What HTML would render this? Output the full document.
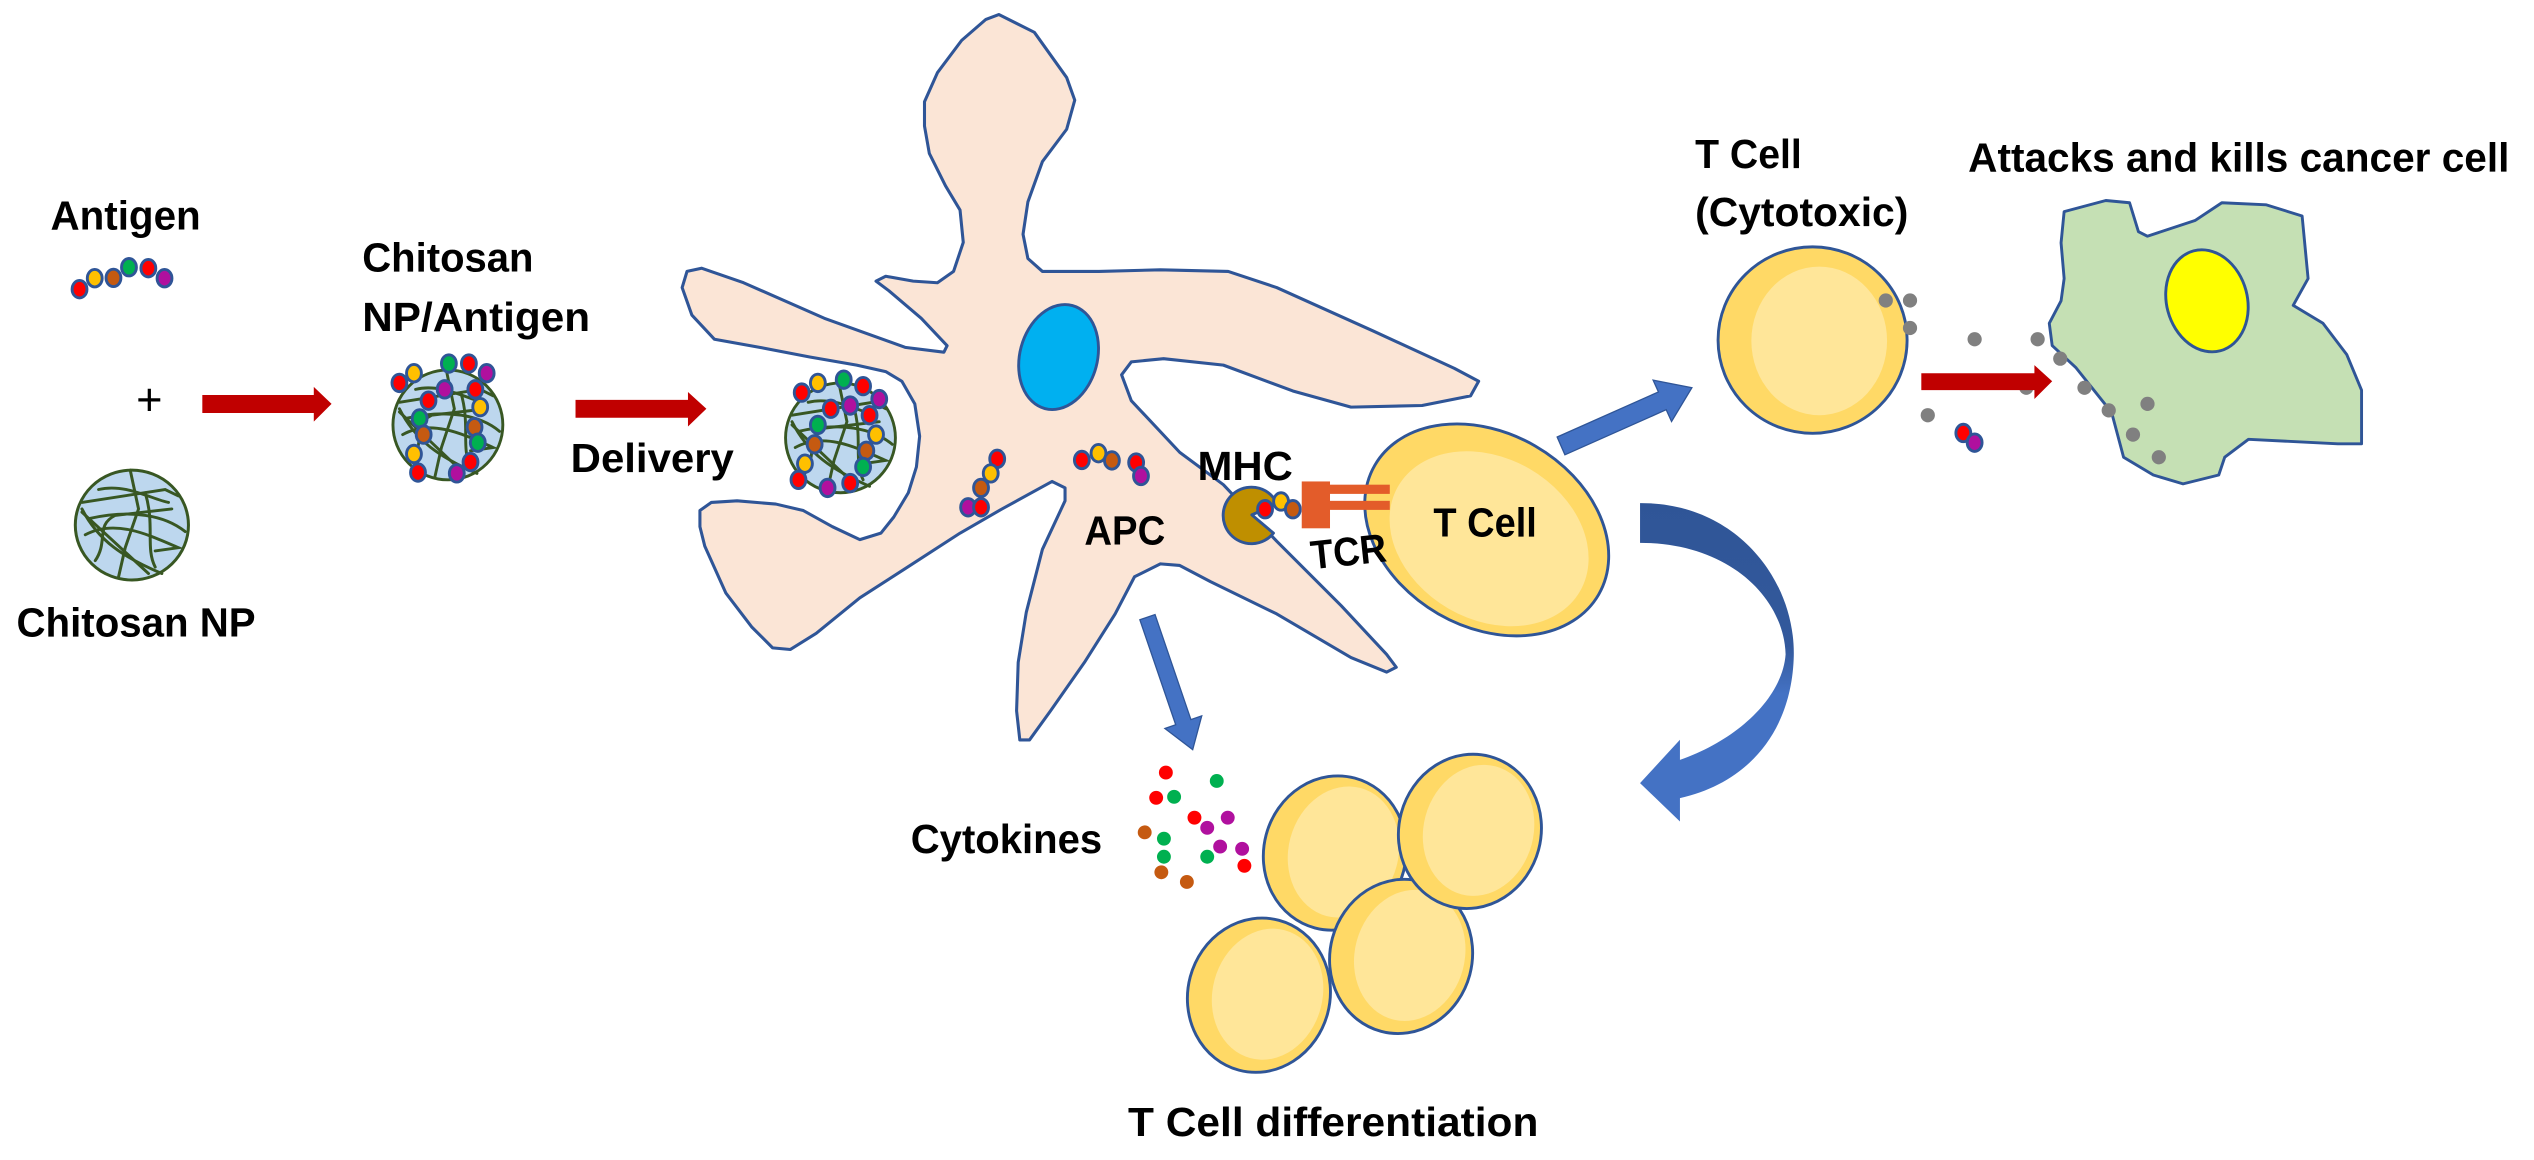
<!DOCTYPE html>
<html><head><meta charset="utf-8"><style>
html,body{margin:0;padding:0;background:#fff;}
svg{display:block;}
text{font-family:"Liberation Sans",sans-serif;font-weight:bold;fill:#000;}
</style></head><body>
<svg width="2534" height="1160" viewBox="0 0 1568 718" xmlns="http://www.w3.org/2000/svg">
<defs>
<linearGradient id="cg" x1="0" y1="0" x2="0" y2="1">
<stop offset="0" stop-color="#2F5597"/><stop offset="0.45" stop-color="#33599c"/><stop offset="0.6" stop-color="#4472C4"/><stop offset="1" stop-color="#4472C4"/>
</linearGradient>
<g id="fib">
<circle cx="0" cy="0" r="34" fill="#BDD7EE" stroke="#385723" stroke-width="1.8"/>
<g fill="none" stroke="#385723" stroke-width="1.8" stroke-linecap="round">
<path d="M-30,-14 L20,-22 L28,-18"/>
<path d="M-1,-34 L4,-10 L-4,14 L-8,32"/>
<path d="M-30,-10 C-20,10 -5,20 18,30"/>
<path d="M-26,-4 C0,-10 20,-6 32,4"/>
<path d="M-28,6 C-10,-4 10,6 28,14 L14,16"/>
<path d="M-22,22 C-14,10 -22,0 -10,-6 L24,-10"/>
<path d="M-20,-22 C-4,-26 12,-16 22,-14"/>
<path d="M8,-20 C14,0 8,14 14,26"/>
<path d="M-30,-8 L10,30"/>
</g>
</g>
<g id="bead"><ellipse cx="0" cy="0" rx="4.6" ry="5.4" stroke="#2F5597" stroke-width="1.8"/></g>
<g id="tc">
<ellipse cx="0" cy="0" rx="44" ry="48" fill="#FFD966" stroke="#2F5597" stroke-width="1.8"/>
<ellipse cx="5" cy="-2" rx="34" ry="41" fill="#FFE699"/>
</g>
</defs>

<!-- Antigen -->
<text x="31" y="142" font-size="25" textLength="93" lengthAdjust="spacingAndGlyphs">Antigen</text>
<use href="#bead" x="49" y="179" fill="#FF0000"/>
<use href="#bead" x="58.4" y="172.2" fill="#FFC000"/>
<use href="#bead" x="70" y="172" fill="#C55A11"/>
<use href="#bead" x="79.6" y="165.4" fill="#00B050"/>
<use href="#bead" x="91.6" y="166" fill="#FF0000"/>
<use href="#bead" x="101.6" y="172.2" fill="#B0109E"/>

<text x="84" y="257" font-size="28" style="font-weight:normal">+</text>
<path d="M125,244.5 H194 V239.5 L205,250 L194,261 V255.6 H125 Z" fill="#C00000"/>

<use href="#fib" transform="translate(81.4,325) scale(1.03,1)"/>
<text x="10" y="394" font-size="25" textLength="148" lengthAdjust="spacingAndGlyphs">Chitosan NP</text>

<text x="224" y="168" font-size="25" textLength="106" lengthAdjust="spacingAndGlyphs">Chitosan</text>
<text x="224" y="205" font-size="25" textLength="141" lengthAdjust="spacingAndGlyphs">NP/Antigen</text>

<!-- NP/antigen -->
<g transform="translate(277,263)">
<use href="#fib"/>
<use href="#bead" x="-30" y="-26" fill="#FF0000"/>
<use href="#bead" x="-21" y="-32" fill="#FFC000"/>
<use href="#bead" x="0.6" y="-38" fill="#00B050"/>
<use href="#bead" x="13" y="-38" fill="#FF0000"/>
<use href="#bead" x="24" y="-32" fill="#B0109E"/>
<use href="#bead" x="-2" y="-22" fill="#B0109E"/>
<use href="#bead" x="-12" y="-15" fill="#FF0000"/>
<use href="#bead" x="-17.5" y="-4" fill="#00B050"/>
<use href="#bead" x="-15" y="6" fill="#C55A11"/>
<use href="#bead" x="-21" y="18" fill="#FFC000"/>
<use href="#bead" x="-18.5" y="29.5" fill="#FF0000"/>
<use href="#bead" x="17" y="-22" fill="#FF0000"/>
<use href="#bead" x="20" y="-11" fill="#FFC000"/>
<use href="#bead" x="16.5" y="1.4" fill="#C55A11"/>
<use href="#bead" x="18.5" y="11" fill="#00B050"/>
<use href="#bead" x="14" y="23" fill="#FF0000"/>
<use href="#bead" x="5.5" y="30" fill="#B0109E"/>
</g>

<path d="M356,247.5 H425.6 V242.6 L437,253 L425.6,264 V258.6 H356 Z" fill="#C00000"/>
<text x="353" y="292" font-size="25" textLength="101" lengthAdjust="spacingAndGlyphs">Delivery</text>

<!-- APC -->
<polygon fill="#FBE5D6" stroke="#2F5597" stroke-width="1.9" stroke-linejoin="round" points="618,9 640,20 660,48 665,62 660,80 645,100 636,125 633,145 636,160 645,168 680,168 718,167 760,168 790,178 850,205 900,228 915,236 910,245 880,251 836,252 800,242 757,226 720,222 700,224 694,232 700,248 730,280 757,300 790,335 830,375 858,405 864,413 858,416 836,407 790,380 749,360 730,350 718,349 702,357 690,380 671,410 650,440 637,458 631,458 629,440 630,410 635,379 645,340 659,310 659,302 651,298 620,315 594,330 560,352 532,370 505,392 489,402 478,401 465,388 449,367 436,338 433,326 433,316 440,311 456,310 480,312 497,316 515,326 532,334 545,330 553,320 562,305 567,289 569,270 566,250 558,236 548,230 530,226 501,221 470,215 442,210 428,195 422,178 425,168 434,166 460,175 510,197 560,215 584,218 586,214 570,197 550,180 542,174 548,171 565,174 580,175 590,168 596,150 594,130 585,115 575,95 572,78 572,63 580,45 595,25 610,12"/>
<ellipse cx="655" cy="221" rx="24" ry="33" transform="rotate(15 655 221)" fill="#00B0F0" stroke="#2F5597" stroke-width="1.8"/>

<g transform="translate(520,271)">
<use href="#fib"/>
<use href="#bead" x="-24" y="-28" fill="#FF0000"/>
<use href="#bead" x="-14" y="-34" fill="#FFC000"/>
<use href="#bead" x="2" y="-36" fill="#00B050"/>
<use href="#bead" x="14" y="-32" fill="#FF0000"/>
<use href="#bead" x="24" y="-24" fill="#B0109E"/>
<use href="#bead" x="-6" y="-18" fill="#FF0000"/>
<use href="#bead" x="6" y="-20" fill="#B0109E"/>
<use href="#bead" x="-14" y="-8" fill="#00B050"/>
<use href="#bead" x="-16" y="4" fill="#C55A11"/>
<use href="#bead" x="-22" y="16" fill="#FFC000"/>
<use href="#bead" x="-26" y="26" fill="#FF0000"/>
<use href="#bead" x="18" y="-14" fill="#FF0000"/>
<use href="#bead" x="22" y="-2" fill="#FFC000"/>
<use href="#bead" x="16" y="8" fill="#C55A11"/>
<use href="#bead" x="14" y="18" fill="#00B050"/>
<use href="#bead" x="6" y="28" fill="#FF0000"/>
<use href="#bead" x="-8" y="31" fill="#B0109E"/>
</g>

<use href="#bead" x="617" y="284" fill="#FF0000"/>
<use href="#bead" x="613" y="293" fill="#FFC000"/>
<use href="#bead" x="607" y="302" fill="#C55A11"/>
<use href="#bead" x="599" y="314" fill="#B0109E"/>
<use href="#bead" x="607" y="314" fill="#FF0000"/>
<use href="#bead" x="669.4" y="284.7" fill="#FF0000"/>
<use href="#bead" x="679.7" y="280.5" fill="#FFC000"/>
<use href="#bead" x="688" y="285" fill="#C55A11"/>
<use href="#bead" x="703" y="286.3" fill="#FF0000"/>
<use href="#bead" x="706" y="294.6" fill="#B0109E"/>

<text x="671" y="337" font-size="25" textLength="50" lengthAdjust="spacingAndGlyphs">APC</text>
<text x="741" y="297" font-size="25" textLength="59" lengthAdjust="spacingAndGlyphs">MHC</text>

<!-- MHC pacman -->
<path d="M774.6,318.7 L790.3,311.8 A17.5,17.5 0 1 0 788,330 Z" fill="#BF8F00" stroke="#2F5597" stroke-width="1.8" stroke-linejoin="round"/>
<use href="#bead" x="782.8" y="315.2" fill="#FF0000"/>
<use href="#bead" x="792.7" y="310.4" fill="#FFC000"/>
<use href="#bead" x="800" y="315.2" fill="#C55A11"/>

<!-- T cell main -->
<g transform="translate(920,328) rotate(30)">
<ellipse cx="0" cy="0" rx="80" ry="60" fill="#FFD966" stroke="#2F5597" stroke-width="1.8"/>
<ellipse cx="4" cy="4" rx="65" ry="50" fill="#FFE699"/>
</g>
<rect x="805.5" y="298" width="17.5" height="29" fill="#E35C2A"/>
<rect x="823" y="300" width="37" height="5.7" fill="#E35C2A"/>
<rect x="823" y="310" width="37" height="5.6" fill="#E35C2A"/>
<text x="887" y="332" font-size="25" textLength="64" lengthAdjust="spacingAndGlyphs">T Cell</text>
<text x="811" y="350" font-size="25" textLength="47" lengthAdjust="spacingAndGlyphs" transform="rotate(-6 834 342)">TCR</text>

<!-- blue arrows -->
<polygon points="705.3,383.6 714.7,380.4 736.9,445.4 743.6,443.1 738,464 720.8,450.9 727.5,448.6" fill="#4472C4" stroke="#2F5597" stroke-width="0.8"/>
<polygon points="963.6,270.5 1026.3,242.6 1023,235.3 1047,240 1034.4,260.9 1031.1,253.6 968.4,281.5" fill="#4472C4" stroke="#2F5597" stroke-width="0.8"/>
<path d="M1014.9,311.4 C1075,311 1112,360 1110,408 C1108,455 1080,485 1039.6,494 L1039.6,508.5 L1014.9,484.7 L1039.6,457.9 L1039.6,470.3 C1075,458 1103,432 1105,405 C1104,370 1070,336 1014.9,336 Z" fill="url(#cg)"/>

<!-- cytotoxic T cell -->
<text x="1049" y="104" font-size="25" textLength="66" lengthAdjust="spacingAndGlyphs">T Cell</text>
<text x="1049" y="140" font-size="25" textLength="132" lengthAdjust="spacingAndGlyphs">(Cytotoxic)</text>
<ellipse cx="1121.7" cy="210.5" rx="58.5" ry="57.7" fill="#FFD966" stroke="#2F5597" stroke-width="1.8"/>
<ellipse cx="1125.8" cy="211" rx="42" ry="46" fill="#FFE699"/>

<g fill="#808080">
<circle cx="1167" cy="186" r="4.4"/><circle cx="1182" cy="186" r="4.4"/><circle cx="1182" cy="203" r="4.4"/>
<circle cx="1222" cy="210" r="4.4"/><circle cx="1261" cy="210" r="4.4"/>
<circle cx="1254" cy="240" r="4.4"/><circle cx="1193" cy="257" r="4.4"/>
</g>

<path d="M1189,231 H1259 V226 L1270,236 L1259,247 V241.5 H1189 Z" fill="#C00000"/>
<use href="#bead" x="1215" y="268" fill="#FF0000"/>
<use href="#bead" x="1222" y="274" fill="#B0109E"/>

<!-- cancer cell -->
<text x="1218" y="106" font-size="25" textLength="335" lengthAdjust="spacingAndGlyphs">Attacks and kills cancer cell</text>
<polygon fill="#C5E0B4" stroke="#2F5597" stroke-width="1.8" stroke-linejoin="round" points="1277.4,131 1303.2,124.1 1317.9,125.5 1323.4,143.4 1328.9,146.2 1358.4,136.5 1375,125.5 1402.6,126.8 1424.7,133.7 1428.4,172.4 1419.2,189 1437.6,200.1 1452.3,219.4 1461.5,241.5 1461.5,274.7 1446.8,274.7 1391.5,271.9 1376.8,283 1373.1,294 1351,299.5 1332.6,294 1314.2,283 1306.8,255.3 1284.8,227.7 1270,213.9 1268.2,200.1 1275.5,186.2 1277.4,172.4 1275.5,150.3"/>
<ellipse cx="1365.8" cy="186.2" rx="25" ry="32" transform="rotate(-15 1365.8 186.2)" fill="#FFFF00" stroke="#2F5597" stroke-width="1.8"/>
<g fill="#808080">
<circle cx="1275" cy="222" r="4.4"/><circle cx="1290" cy="240" r="4.4"/><circle cx="1305" cy="254" r="4.4"/>
<circle cx="1329" cy="250" r="4.4"/><circle cx="1320" cy="269" r="4.4"/><circle cx="1336" cy="283" r="4.4"/>
</g>

<!-- cytokines -->
<text x="563.5" y="528" font-size="25" textLength="118.5" lengthAdjust="spacingAndGlyphs">Cytokines</text>
<g>
<circle cx="721.4" cy="478.2" r="4.3" fill="#FF0000"/>
<circle cx="752.9" cy="483.4" r="4.3" fill="#00B050"/>
<circle cx="715.4" cy="493.8" r="4.3" fill="#FF0000"/>
<circle cx="726.5" cy="493.2" r="4.3" fill="#00B050"/>
<circle cx="739.1" cy="506.1" r="4.3" fill="#FF0000"/>
<circle cx="759.7" cy="506.1" r="4.3" fill="#B0109E"/>
<circle cx="747" cy="512.4" r="4.3" fill="#B0109E"/>
<circle cx="708.3" cy="515.2" r="4.3" fill="#C55A11"/>
<circle cx="720.2" cy="519.1" r="4.3" fill="#00B050"/>
<circle cx="755" cy="524" r="4.3" fill="#B0109E"/>
<circle cx="768.6" cy="525.4" r="4.3" fill="#B0109E"/>
<circle cx="720.2" cy="530.3" r="4.3" fill="#00B050"/>
<circle cx="747" cy="530.3" r="4.3" fill="#00B050"/>
<circle cx="770" cy="535.9" r="4.3" fill="#FF0000"/>
<circle cx="718.6" cy="539.9" r="4.3" fill="#C55A11"/>
<circle cx="734.4" cy="545.9" r="4.3" fill="#C55A11"/>
</g>

<!-- T cell cluster -->
<use href="#tc" transform="translate(826,528) rotate(15)"/>
<use href="#tc" transform="translate(779,616) rotate(15)"/>
<use href="#tc" transform="translate(867,592) rotate(15)"/>
<use href="#tc" transform="translate(909.6,514.6) rotate(15)"/>

<text x="698" y="703" font-size="25" textLength="254" lengthAdjust="spacingAndGlyphs">T Cell differentiation</text>
</svg>
</body></html>
